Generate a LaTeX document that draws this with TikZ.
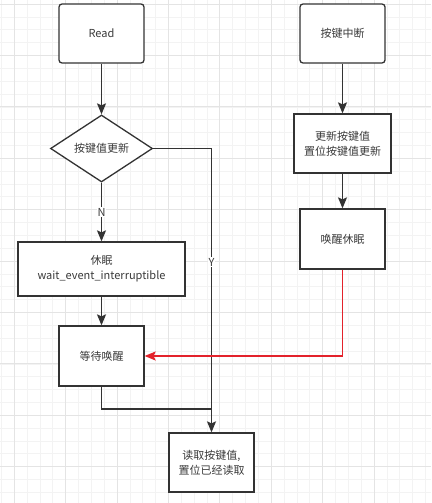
\documentclass[tikz,border=0pt]{standalone}
\usepackage{fontspec}
\setmainfont{Noto Sans CJK SC}
\usetikzlibrary{arrows.meta,shapes.geometric}
\definecolor{ln}{HTML}{333333}
\definecolor{txt}{HTML}{3A3A3A}
\definecolor{redl}{HTML}{E3222B}
\definecolor{gmin}{HTML}{F3F3F3}
\definecolor{gmaj}{HTML}{E4E4E4}
\begin{document}
\begin{tikzpicture}[x=1pt,y=-1pt,
  box/.style={draw=ln, line width=1.3pt, fill=white, text=txt, inner sep=0pt, align=center,
    font=\fontsize{11}{15}\selectfont},
  rbox/.style={box, rounded corners=3pt},
  dia/.style={box, diamond, minimum width=102pt, minimum height=67pt},
  conn/.style={draw=ln, line width=1.3pt, -{Stealth[length=11pt,width=9pt,inset=2pt]}},
  plain/.style={draw=ln, line width=1.3pt},
  redconn/.style={draw=redl, line width=1.3pt, -{Stealth[length=11pt,width=9pt,inset=2pt]}},
  lbl/.style={fill=white, text=txt, inner sep=1pt, font=\fontsize{11}{13}\selectfont},
  gridminor/.style={draw=gmin, line width=0.6pt},
  gridmajor/.style={draw=gmaj, line width=0.7pt}]
\useasboundingbox (0,0) rectangle (431,503);
\fill[white] (0,0) rectangle (431,503);
% grid
\foreach \i in {0,...,33} \draw[gridminor] ({1.3+12.85*\i},0) -- ({1.3+12.85*\i},503);
\foreach \i in {0,...,38} \draw[gridminor] (0,{4+12.85*\i}) -- (431,{4+12.85*\i});
\foreach \i in {0,...,7} \draw[gridmajor] ({14.1+51.4*\i},0) -- ({14.1+51.4*\i},503);
\foreach \i in {0,...,9} \draw[gridmajor] (0,{4+51.4*\i}) -- (431,{4+51.4*\i});
% nodes
\node[rbox, minimum width=85pt, minimum height=59pt] (read) at (101.5,33.5) {Read};
\node[rbox, minimum width=85pt, minimum height=59pt] (intr) at (342.5,33.5) {按键中断};
\node[dia] (chk) at (101.5,148.5) {按键值更新};
\node[box, minimum width=167pt, minimum height=54pt] (sleep) at (101.5,269) {休眠\\wait\_event\_interruptible};
\node[box, minimum width=85pt, minimum height=60pt] (wait) at (101.5,356) {等待唤醒};
\node[box, minimum width=85pt, minimum height=59pt] (rdv) at (211.5,462.5) {读取按键值,\\置位已经读取};
\node[box, minimum width=97pt, minimum height=59pt] (upd) at (342.5,143.5) {更新按键值\\置位按键值更新};
\node[box, minimum width=85pt, minimum height=60pt] (wake) at (342.5,239) {唤醒休眠};
\coordinate (join) at (211.5,409);
% connectors
\draw[conn] (read) -- (chk);
\draw[conn] (chk) -- node[lbl, pos=0.5] (nlab) {N} (sleep);
\draw[conn] (chk.east) -| node[lbl, pos=0.7] (ylab) {Y} (rdv.north);
\draw[conn] (sleep) -- (wait);
\draw[plain] (wait.south) |- (join);
\draw[conn] (intr) -- (upd);
\draw[conn] (upd) -- (wake);
\draw[redconn] (wake.south) |- (wait.east);
\end{tikzpicture}
\end{document}
